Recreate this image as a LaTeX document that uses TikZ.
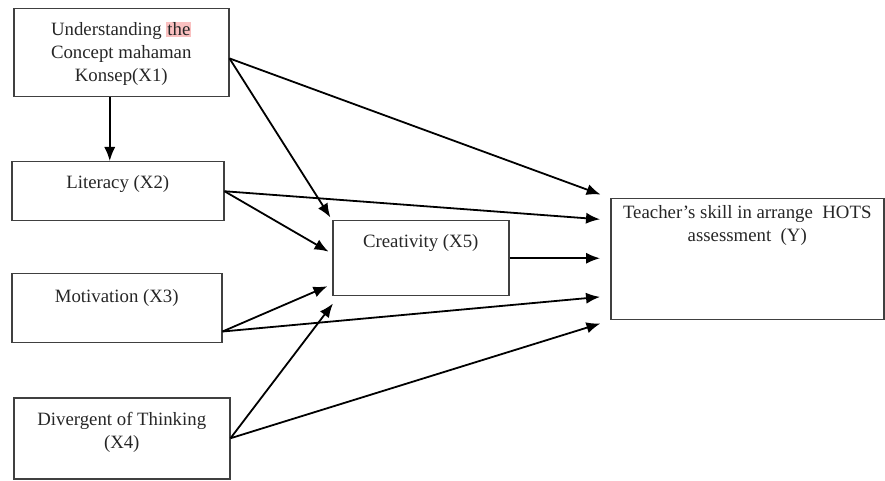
\documentclass[tikz,border=0pt]{standalone}
\usepackage{fontspec}
\setmainfont{Liberation Serif}
\usepackage{tikz}
\usetikzlibrary{arrows.meta,calc,positioning}
\definecolor{hlpink}{RGB}{250,192,192}
\newcommand{\pinkmark}[1]{{\setlength{\fboxsep}{0.5pt}\colorbox{hlpink}{#1}}}

\begin{document}
\begin{tikzpicture}[x=0.5pt, y=-0.5pt, ->, >={Latex[length=7pt,width=5.6pt]},
line width=0.9pt,
box/.style={draw=black!75, line width=0.75pt, anchor=north west,
  inner xsep=0pt, inner ysep=0pt, align=center,
  font=\fontsize{9.4}{11.5}\selectfont, text=black!85}]

\useasboundingbox (0,0) rectangle (885,481);

\node [box, minimum width=107.5pt, text height=36.5pt, text depth=7.5pt] (x1) at (13,8)
  {Understanding \pinkmark{the}\\Concept mahaman\\Konsep(X1)};
\node [box, minimum width=106pt, text height=13.5pt, text depth=16pt] (x2) at (11,161)
  {Literacy (X2)};
\node [box, minimum width=105pt, text height=14.5pt, text depth=20pt] (x3) at (11,273)
  {Motivation (X3)};
\node [box, minimum width=108pt, text height=25.5pt, text depth=15pt] (x4) at (13,397)
  {Divergent of Thinking\\(X4)};
\node [box, minimum width=88pt, text height=13.5pt, text depth=24pt] (x5) at (332,220)
  {Creativity (X5)};
\node [box, minimum width=136.5pt, text height=21.5pt, text depth=39pt] (y) at (610,198)
  {Teacher’s skill in arrange \ HOTS\\assessment \ (Y)};

% to literacy
\path ([xshift=-5.75pt]x1.south) edge ([xshift=-5.75pt]x1.south |- x2.north);

% to creativity
\path [shorten >=1.5pt] (x1.-3) edge (x5.north west);
\path [shorten >=2pt] (x2.east) edge ($(x5.north west)!0.44!(x5.south west)$);
\path [shorten >=2.5pt] ($(x3.north east)!0.83!(x3.south east)$) edge ($(x5.north west)!0.84!(x5.south west)$);
\path (x4.east) edge ($(x5.south west)+(1,7)$);

% to teacher's skill
\path [shorten >=5pt] (x1.-3) edge (y.north west);
\path [shorten >=5pt] (x2.east) edge ($(y.north west)!0.18!(y.south west)$);
\path [shorten >=5pt] (x5.east) edge (x5.east -| y.west);
\path [shorten >=5pt] ($(x3.north east)!0.83!(x3.south east)$) edge ($(y.north west)!0.8!(y.south west)$);
\path [shorten >=5pt] (x4.east) edge (y.south west);
\end{tikzpicture}
\end{document}
